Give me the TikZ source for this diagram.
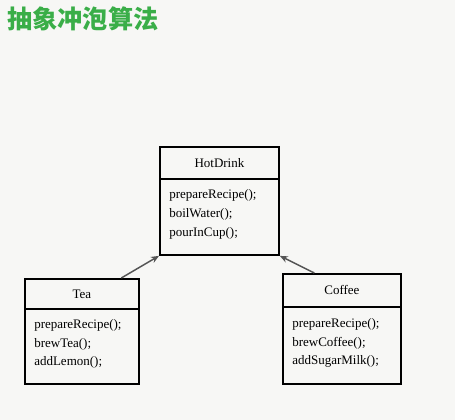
\documentclass[tikz,border=0pt]{standalone}
\usepackage{fontspec}
\setmainfont{Liberation Serif}
\newfontfamily\cjk{Noto Sans CJK SC}
\usetikzlibrary{arrows.meta,calc}
\definecolor{bgc}{HTML}{F7F7F5}
\definecolor{titlegreen}{HTML}{3AAE48}
\definecolor{arrgray}{HTML}{555555}
\tikzset{
  px/.style={x=0.75pt,y=-0.75pt},
  umlbox/.style={draw=black,line width=1.4pt,fill=bgc,inner sep=0pt,anchor=north west},
  clsname/.style={umlbox,font=\fontsize{9.75}{12}\selectfont},
  method/.style={anchor=base west,inner sep=0pt,font=\fontsize{9.75}{12}\selectfont},
  inherit/.style={draw=arrgray,line width=1.1pt,-{Stealth[length=6pt,width=5pt]}},
}
\begin{document}
\begin{tikzpicture}[px]
\useasboundingbox (0,0) rectangle (455,420);
\fill[bgc] (0,0) rectangle (455,420);
\node[anchor=west,inner sep=0pt,text=titlegreen,font=\cjk\bfseries\fontsize{18.9}{20}\selectfont] (title) at (7,19) {抽象冲泡算法};

% HotDrink
\node[clsname,minimum width=119*0.75pt,minimum height=32*0.75pt] (hd) at (159,146) {HotDrink};
\node[umlbox,minimum width=119*0.75pt,minimum height=76*0.75pt] (hdb) at (159,178) {};
\node[method] (hd1) at (169,198.5) {prepareRecipe();};
\node[method] (hd2) at (169,217.5) {boilWater();};
\node[method] (hd3) at (169,236.5) {pourInCup();};

% Tea
\node[clsname,minimum width=114*0.75pt,minimum height=30*0.75pt] (tea) at (24,278) {Tea};
\node[umlbox,minimum width=114*0.75pt,minimum height=75*0.75pt] (teab) at (24,308) {};
\node[method] (tea1) at (34,329) {prepareRecipe();};
\node[method] (tea2) at (34,347.5) {brewTea();};
\node[method] (tea3) at (34,366) {addLemon();};

% Coffee
\node[clsname,minimum width=118*0.75pt,minimum height=33*0.75pt] (cof) at (282,273) {Coffee};
\node[umlbox,minimum width=118*0.75pt,minimum height=77*0.75pt] (cofb) at (282,306) {};
\node[method] (cof1) at (292,327.5) {prepareRecipe();};
\node[method] (cof2) at (292,346.5) {brewCoffee();};
\node[method] (cof3) at (292,365) {addSugarMilk();};

% inheritance
\draw[inherit] ($(tea.north west)!0.84!(tea.north east)$) -- (hdb.south west);
\draw[inherit] ($(cof.north west)!0.27!(cof.north east)$) -- (hdb.south east);
\end{tikzpicture}
\end{document}
